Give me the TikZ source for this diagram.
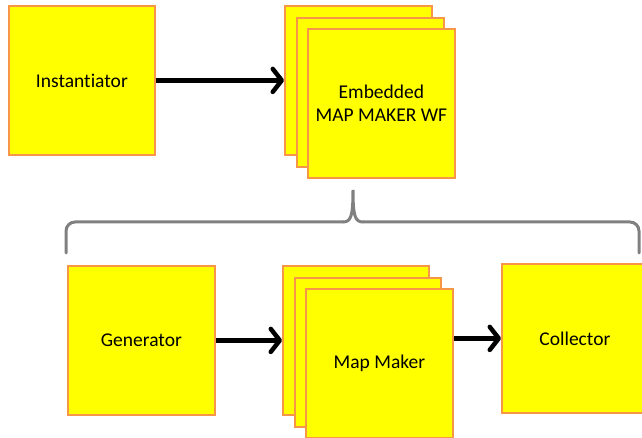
\documentclass[tikz,border=0pt]{standalone}
\usepackage{fontspec}
\setmainfont[Ligatures={NoCommon}]{Carlito}
\usetikzlibrary{arrows.meta}
\definecolor{boxfill}{RGB}{255,255,0}
\definecolor{boxline}{RGB}{247,150,70}
\definecolor{bracegray}{RGB}{128,128,128}
\begin{document}
\begin{tikzpicture}[x=1pt,y=-1pt,
  box/.style={draw=boxline, fill=boxfill, line width=1.8pt, anchor=north west,
    inner sep=0pt, align=center, font=\fontsize{19.5}{23}\selectfont, text=black},
  flow/.style={line width=4.5pt, -{Straight Barb[length=9pt,width=23pt,line cap=round,line join=round]}},
  bracestyle/.style={draw=bracegray, line width=3pt, line cap=round}]
\useasboundingbox (0,0) rectangle (642,438);
% top row
\node[box, minimum width=146pt, minimum height=149pt] (inst) at (8,5) {Instantiator};
\node[box, minimum width=147pt, minimum height=149pt] (emb1) at (284,5) {};
\node[box, minimum width=147pt, minimum height=149pt] (emb2) at (296,17) {};
\node[box, minimum width=147pt, minimum height=149pt] (emb3) at (307,28) {Embedded\\MAP MAKER WF};
\draw[flow] (inst.east) -- (emb1.west);
% brace
\draw[bracestyle, rounded corners=9pt] (66,253) -- (66,222) -- (343,222);
\draw[bracestyle] (343,222) .. controls (351,222) and (353,216) .. (353,190)
  .. controls (353,216) and (355,222) .. (363,222);
\draw[bracestyle, rounded corners=9pt] (363,222) -- (639,222) -- (639,253);
% bottom row
\node[box, minimum width=147pt, minimum height=149pt] (gen) at (67,265) {Generator};
\node[box, minimum width=146pt, minimum height=149pt] (mm1) at (282,265) {};
\node[box, minimum width=146pt, minimum height=149pt] (mm2) at (294,277) {};
\node[box, minimum width=147pt, minimum height=149pt] (mm3) at (305,288) {Map Maker};
\node[box, minimum width=146pt, minimum height=149pt] (col) at (501,263) {Collector};
\draw[flow] (gen.east) -- (mm1.west);
\draw[flow] (mm3.east |- col.west) -- (col.west);
\end{tikzpicture}
\end{document}
